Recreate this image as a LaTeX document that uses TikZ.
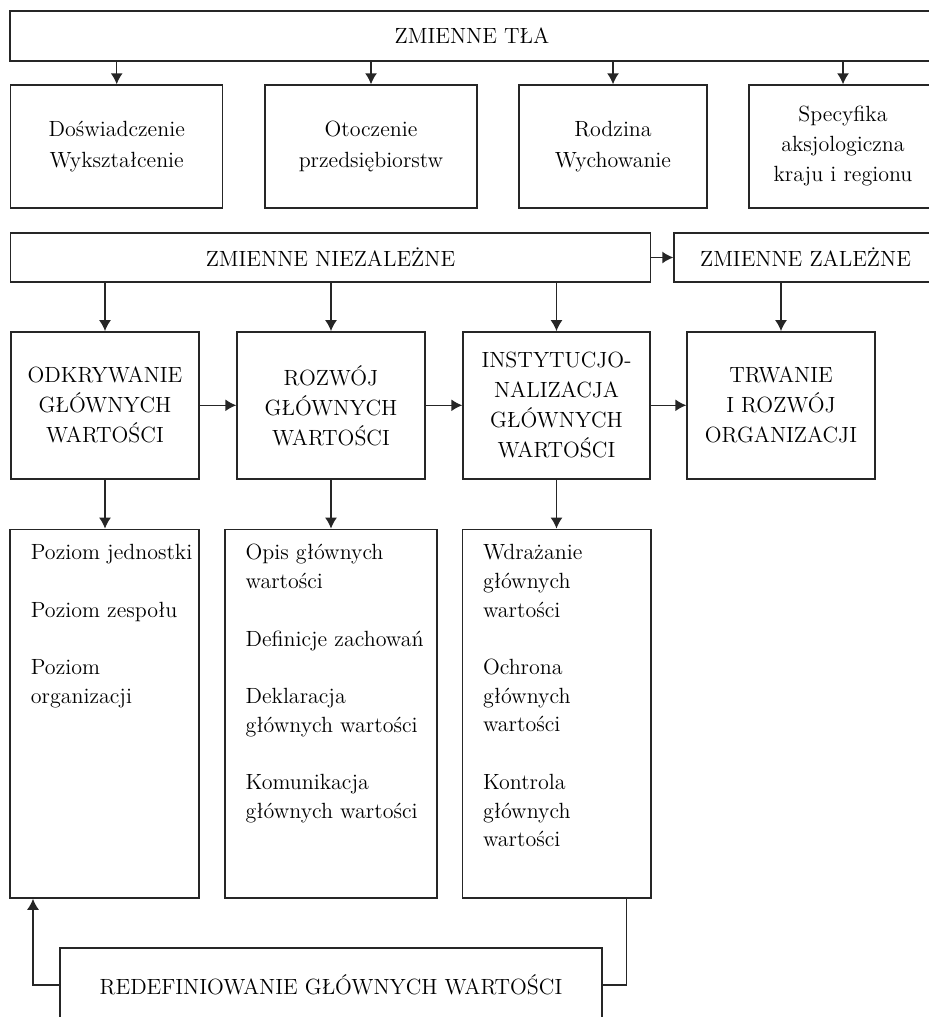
\documentclass[tikz,border=0pt]{standalone}
\usepackage{fontspec}
\usetikzlibrary{positioning,arrows.meta}

\tikzset{
  box/.style={draw=black!85, rectangle, inner sep=0pt, align=center, font=\fontsize{11}{15}\selectfont},
  list/.style={inner sep=0pt, align=left, anchor=north west, font=\fontsize{11}{14.35}\selectfont},
  arr/.style={draw=black!85, -{Latex[length=5.5pt,width=6pt]}},
  link/.style={draw=black!85}
}

\begin{document}
\begin{tikzpicture}[x=0.5pt, y=-0.5pt, line width=0.7pt]
\useasboundingbox (0,0) rectangle (929,1017);
\clip (0,0) rectangle (929,1017);

\node[box, minimum width=462pt, minimum height=25pt] (tla) at (472,36) {ZMIENNE TŁA};

\node[box, minimum width=106pt, minimum height=61.5pt, font=\fontsize{11}{15.6}\selectfont] (dosw) at (116.7,146.5) {Doświadczenie\\Wykształcenie};
\node[box, minimum width=106pt, minimum height=61.5pt, font=\fontsize{11}{15.6}\selectfont] (oto) at (371,146.5) {Otoczenie\\przedsiębiorstw};
\node[box, minimum width=94pt, minimum height=61.5pt, font=\fontsize{11}{15.6}\selectfont] (rodz) at (613,146.5) {Rodzina\\Wychowanie};
\node[box, minimum width=94pt, minimum height=61.5pt] (spec) at (843,146.5) {Specyfika\\aksjologiczna\\kraju i regionu};

\node[box, minimum width=320pt, minimum height=24.5pt] (niez) at (330.5,257.5) {ZMIENNE NIEZALEŻNE};
\node[box, minimum width=131.5pt, minimum height=24.5pt] (zal) at (805.5,257.5) {ZMIENNE ZALEŻNE};

\node[box, minimum width=94pt, minimum height=73.5pt] (odk) at (105,405.3) {ODKRYWANIE\\GŁÓWNYCH\\WARTOŚCI};
\node[box, minimum width=94pt, minimum height=73.5pt] (roz) at (331,405.3) {ROZWÓJ\\GŁÓWNYCH\\WARTOŚCI};
\node[box, minimum width=93.5pt, minimum height=73.5pt] (ins) at (556.5,405.3) {INSTYTUCJO-\\NALIZACJA\\GŁÓWNYCH\\WARTOŚCI};
\node[box, minimum width=94pt, minimum height=73.5pt] (trw) at (781,405.3) {TRWANIE\\I ROZWÓJ\\ORGANIZACJI};

\node[box, minimum width=94.5pt, minimum height=184.4pt] (lev1) at (104.4,713.7) {};
\node[box, minimum width=106pt, minimum height=184.4pt] (lev2) at (331,713.7) {};
\node[box, minimum width=94.3pt, minimum height=184.4pt] (lev3) at (556.7,713.7) {};

\node[list, below right=7.6pt and 10.5pt of lev1.north west] (lev1txt) {Poziom jednostki\\[14.35pt]
  Poziom zespołu\\[14.35pt]
  Poziom\\organizacji};
\node[list, below right=7.6pt and 10.3pt of lev2.north west] (lev2txt) {Opis głównych\\wartości\\[14.35pt]
  Definicje zachowań\\[14.35pt]
  Deklaracja\\głównych wartości\\[14.35pt]
  Komunikacja\\głównych wartości};
\node[list, below right=7.6pt and 10.3pt of lev3.north west] (lev3txt) {Wdrażanie\\głównych\\wartości\\[14.35pt]
  Ochrona\\głównych\\wartości\\[14.35pt]
  Kontrola\\głównych\\wartości};

\node[box, minimum width=271pt, minimum height=37pt] (redef) at (331,985) {REDEFINIOWANIE GŁÓWNYCH WARTOŚCI};

\foreach \n in {dosw,oto,rodz,spec}
  \draw[arr] (tla.south -| \n) -- (\n);
\draw[arr] (niez) -- (zal);
\foreach \n in {odk,roz,ins}
  \draw[arr] (niez.south -| \n) -- (\n);
\draw[arr] (zal.south -| trw) -- (trw);

\draw[arr] (odk) -- (roz);
\draw[arr] (roz) -- (ins);
\draw[arr] (ins) -- (trw);

\draw[arr] (odk) -- (odk |- lev1.north);
\draw[arr] (roz) -- (roz |- lev2.north);
\draw[arr] (ins) -- (ins |- lev3.north);

\coordinate (fbR) at ([xshift=-12.5pt]lev3.south east);
\coordinate (fbL) at ([xshift=11.9pt]lev1.south west);
\draw[link] (fbR) |- (redef.east);
\draw[arr] (redef.west) -| (fbL);
\end{tikzpicture}
\end{document}
